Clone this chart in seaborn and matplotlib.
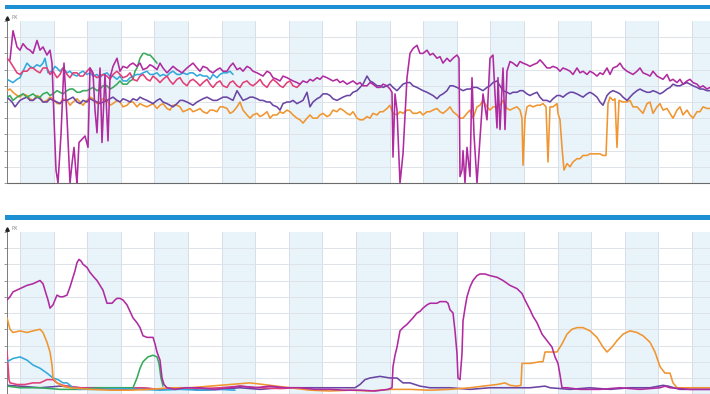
import matplotlib
matplotlib.use("Agg")
import matplotlib.pyplot as plt
from matplotlib.patches import Rectangle
import numpy as np
import pandas as pd
import seaborn as sns

sns.set_theme(style="white")
plt.rcParams["font.family"] = ["DejaVu Sans"]

# Each channel: (sample time, level in % of full scale)

# ---------- upper panel ----------
upper_magenta = [
    (10, 76), (13, 94), (17, 84), (20, 82), (23, 86), (27, 83), (30, 82), (33, 80), (37, 88), (40, 82),
    (43, 84), (47, 79), (50, 82), (52, 74), (54, 40), (56, 8), (58, 0), (61, 30), (64, 74), (67, 40),
    (70, 0), (72, 12), (74, 22), (76, 6), (77, 0), (79, 25), (82, 27), (85, 29), (88, 22), (90, 71),
    (93, 68), (95, 45), (97, 31), (100, 71), (102, 25), (105, 67), (108, 26), (110, 65), (113, 72), (117, 77),
    (120, 69), (123, 72), (127, 71), (130, 73), (133, 74), (137, 72), (140, 74), (143, 70), (147, 71), (150, 73),
    (153, 72), (157, 70), (160, 74), (163, 71), (167, 68), (170, 70), (173, 72), (177, 70), (182, 68), (187, 71),
    (193, 74), (197, 71), (200, 69), (203, 72), (207, 71), (210, 69), (213, 68), (217, 70), (220, 71), (223, 69),
    (227, 69), (230, 72), (233, 74), (237, 70), (240, 71), (243, 69), (247, 72), (250, 71), (253, 69), (257, 68),
    (260, 67), (263, 66), (267, 69), (270, 68), (273, 65), (277, 64), (280, 63), (283, 66), (287, 65), (290, 64),
    (293, 63), (297, 62), (300, 61), (303, 63), (307, 62), (310, 64), (313, 63), (317, 65), (320, 64), (323, 66),
    (327, 65), (330, 64), (333, 63), (337, 64), (340, 62), (343, 63), (347, 61), (350, 62), (353, 63), (357, 61),
    (360, 62), (363, 60), (367, 60), (370, 62), (373, 61), (377, 59), (380, 59), (383, 61), (387, 60), (390, 58),
    (392, 56), (393, 16), (395, 55), (397, 45), (400, 0), (403, 18), (407, 65), (410, 80), (413, 83), (417, 85),
    (420, 80), (423, 80), (427, 82), (430, 79), (433, 80), (437, 77), (440, 78), (443, 74), (447, 77), (450, 75),
    (453, 77), (457, 79), (459, 77), (460, 4), (462, 8), (463, 20), (465, 0), (467, 22), (470, 4), (472, 65),
    (474, 30), (477, 0), (480, 28), (483, 55), (487, 39), (490, 77), (493, 79), (495, 55), (497, 34), (498, 65),
    (500, 33), (503, 71), (505, 33), (507, 69), (510, 75), (513, 74), (517, 72), (520, 75), (523, 74), (527, 73),
    (530, 72), (533, 73), (537, 74), (540, 76), (543, 74), (547, 71), (550, 71), (553, 72), (557, 71), (560, 69),
    (563, 71), (567, 70), (570, 69), (573, 67), (577, 71), (580, 68), (583, 69), (587, 67), (590, 69), (593, 68),
    (597, 66), (600, 68), (603, 67), (607, 71), (610, 67), (613, 71), (617, 72), (620, 74), (623, 71), (627, 69),
    (630, 68), (633, 67), (637, 69), (640, 71), (643, 68), (647, 67), (650, 66), (653, 69), (657, 66), (660, 65),
    (663, 64), (667, 67), (670, 63), (673, 64), (677, 62), (680, 64), (683, 61), (687, 63), (690, 64), (693, 62),
    (697, 61), (700, 59), (703, 60), (707, 58), (710, 59),
]

upper_crimson = [
    (7, 77), (10, 75), (13, 72), (17, 68), (20, 67), (23, 69), (27, 69), (30, 71), (33, 71), (37, 69),
    (40, 68), (43, 71), (47, 71), (50, 67), (53, 69), (57, 65), (60, 67), (63, 71), (67, 67), (70, 65),
    (73, 68), (77, 68), (80, 66), (83, 66), (87, 69), (90, 71), (93, 67), (97, 65), (100, 66), (103, 67),
    (107, 66), (110, 64), (113, 67), (117, 69), (120, 67), (123, 65), (127, 66), (130, 68), (133, 64), (137, 63),
    (140, 66), (143, 67), (147, 64), (150, 63), (153, 66), (157, 64), (160, 62), (163, 64), (167, 66), (170, 63),
    (173, 61), (177, 64), (180, 65), (183, 62), (187, 60), (190, 63), (193, 64), (197, 62), (200, 60), (203, 62),
    (207, 64), (210, 61), (213, 59), (217, 62), (220, 63), (223, 60), (227, 59), (230, 62), (233, 63), (237, 60),
    (240, 59), (243, 62), (247, 63), (250, 61), (253, 60), (257, 62), (260, 64), (263, 61), (267, 59), (270, 62),
    (273, 64), (277, 62), (280, 60), (283, 59), (287, 62), (290, 63), (293, 60), (297, 59), (300, 61),
]

upper_cyan = [
    (7, 64), (10, 63), (13, 62), (17, 64), (20, 65), (23, 69), (27, 74), (30, 72), (33, 71), (37, 73),
    (40, 72), (43, 74), (45, 77), (48, 68), (52, 69), (55, 72), (57, 71), (60, 69), (63, 71), (67, 68),
    (70, 69), (73, 67), (77, 66), (80, 68), (83, 69), (87, 67), (90, 68), (93, 66), (97, 67), (100, 65),
    (103, 67), (107, 68), (110, 66), (113, 66), (117, 64), (120, 66), (123, 63), (127, 63), (130, 65), (133, 66),
    (137, 67), (140, 67), (143, 68), (147, 69), (150, 67), (153, 67), (157, 68), (160, 66), (163, 67), (167, 66),
    (170, 68), (173, 69), (177, 67), (180, 67), (183, 68), (187, 67), (190, 68), (193, 68), (197, 66), (200, 67),
    (203, 66), (207, 66), (210, 64), (213, 67), (217, 65), (220, 67), (223, 68), (227, 68), (230, 69), (233, 67),
]

upper_green = [
    (7, 53), (10, 54), (13, 51), (17, 53), (20, 54), (23, 55), (27, 53), (30, 54), (33, 55), (37, 53),
    (40, 53), (43, 55), (47, 56), (50, 54), (53, 55), (57, 57), (60, 56), (63, 55), (67, 57), (70, 58),
    (73, 58), (77, 56), (80, 56), (83, 57), (87, 57), (90, 58), (93, 59), (97, 57), (100, 58), (103, 60),
    (107, 60), (110, 58), (113, 59), (117, 61), (120, 63), (123, 61), (127, 61), (130, 63), (133, 64), (135, 69),
    (137, 71), (140, 77), (143, 80), (145, 80), (148, 79), (150, 79), (153, 77), (157, 74),
]

upper_purple = [
    (7, 53), (12, 50), (15, 47), (20, 51), (23, 52), (27, 53), (30, 51), (33, 51), (37, 53), (40, 52),
    (43, 50), (47, 50), (50, 52), (53, 51), (57, 50), (60, 49), (63, 51), (67, 51), (70, 52), (73, 53),
    (77, 50), (80, 49), (83, 51), (87, 50), (90, 52), (93, 51), (97, 50), (100, 49), (103, 50), (107, 51),
    (110, 52), (113, 53), (117, 51), (120, 50), (123, 52), (127, 51), (130, 50), (133, 52), (137, 51), (140, 53),
    (143, 52), (147, 51), (150, 50), (153, 49), (157, 51), (160, 52), (163, 50), (167, 49), (170, 48), (173, 47),
    (177, 49), (180, 51), (183, 51), (187, 50), (190, 49), (193, 48), (197, 50), (200, 51), (203, 52), (207, 53),
    (210, 52), (213, 51), (217, 51), (220, 52), (223, 53), (227, 53), (230, 52), (233, 51), (237, 57), (240, 54),
    (243, 51), (247, 52), (250, 53), (253, 53), (257, 52), (260, 51), (263, 51), (267, 50), (270, 50), (273, 48),
    (277, 47), (280, 45), (283, 49), (287, 50), (290, 50), (293, 51), (297, 49), (300, 50), (303, 51), (307, 56),
    (310, 47), (313, 50), (317, 52), (320, 53), (323, 55), (327, 55), (330, 54), (333, 52), (337, 51), (340, 52),
    (343, 53), (347, 54), (350, 54), (353, 56), (357, 57), (360, 59), (363, 61), (367, 66), (370, 63), (373, 62),
    (377, 60), (380, 60), (383, 59), (387, 60), (390, 61), (393, 59), (397, 57), (400, 59), (403, 61), (407, 62),
    (410, 62), (413, 60), (417, 59), (420, 58), (423, 57), (427, 56), (430, 55), (433, 54), (437, 52), (440, 54),
    (443, 55), (447, 57), (450, 60), (453, 60), (457, 59), (460, 58), (463, 57), (467, 58), (470, 58), (473, 59),
    (477, 59), (480, 58), (483, 57), (487, 59), (490, 60), (493, 62), (497, 63), (500, 60), (503, 57), (507, 56),
    (510, 55), (513, 56), (517, 56), (520, 57), (523, 57), (527, 55), (530, 54), (533, 55), (537, 56), (540, 53),
    (543, 51), (547, 51), (550, 50), (553, 52), (557, 54), (560, 54), (563, 53), (567, 55), (570, 56), (573, 56),
    (577, 55), (580, 54), (583, 53), (587, 55), (590, 56), (593, 55), (597, 53), (600, 50), (603, 48), (607, 54),
    (610, 56), (613, 57), (617, 56), (620, 55), (623, 53), (627, 51), (630, 53), (633, 55), (637, 57), (640, 58),
    (643, 57), (647, 56), (650, 56), (653, 57), (657, 56), (660, 55), (663, 56), (667, 58), (670, 59), (673, 61),
    (677, 60), (680, 60), (683, 61), (687, 62), (690, 61), (693, 60), (697, 59), (700, 58), (703, 58), (707, 57),
    (710, 57),
]

upper_orange = [
    (7, 57), (10, 58), (13, 56), (17, 54), (20, 53), (23, 55), (27, 54), (30, 52), (33, 51), (37, 54),
    (40, 53), (43, 50), (47, 51), (50, 53), (53, 52), (57, 49), (60, 49), (63, 52), (67, 51), (70, 48),
    (73, 50), (77, 52), (80, 50), (83, 48), (87, 51), (90, 53), (93, 52), (97, 49), (100, 50), (103, 52),
    (107, 51), (110, 48), (113, 49), (117, 51), (120, 50), (123, 47), (127, 48), (130, 50), (133, 50), (137, 47),
    (140, 49), (143, 48), (147, 47), (150, 48), (153, 49), (157, 46), (160, 48), (163, 49), (167, 46), (170, 45),
    (173, 48), (177, 48), (180, 47), (183, 44), (187, 45), (190, 46), (193, 44), (197, 45), (200, 46), (203, 44),
    (207, 43), (210, 45), (213, 45), (217, 44), (220, 47), (223, 47), (227, 46), (230, 43), (233, 44), (237, 47),
    (240, 50), (243, 45), (247, 42), (250, 40), (253, 42), (257, 43), (260, 41), (263, 42), (267, 44), (270, 40),
    (273, 42), (277, 42), (280, 44), (283, 43), (287, 45), (290, 44), (293, 42), (297, 40), (300, 39), (303, 37),
    (307, 40), (310, 42), (313, 40), (317, 40), (320, 42), (323, 43), (327, 41), (330, 42), (333, 45), (337, 44),
    (340, 46), (343, 45), (347, 43), (350, 42), (353, 44), (357, 40), (360, 39), (363, 39), (367, 41), (370, 40),
    (373, 43), (377, 42), (380, 44), (383, 44), (387, 46), (390, 48), (393, 43), (397, 42), (400, 44), (403, 43),
    (407, 45), (410, 45), (413, 43), (417, 43), (420, 44), (423, 42), (427, 44), (430, 44), (433, 45), (437, 46),
    (440, 44), (443, 43), (447, 45), (450, 47), (453, 44), (457, 42), (460, 40), (463, 40), (467, 43), (470, 45),
    (473, 40), (477, 47), (480, 48), (483, 51), (487, 47), (490, 45), (493, 47), (497, 47), (500, 48), (503, 51),
    (507, 46), (510, 45), (513, 46), (517, 47), (520, 45), (522, 40), (523, 11), (525, 40), (527, 47), (530, 48),
    (533, 47), (537, 48), (540, 48), (543, 49), (546, 47), (548, 13), (550, 47), (553, 47), (557, 49), (558, 43),
    (560, 39), (562, 22), (564, 8), (567, 12), (570, 10), (573, 13), (577, 15), (580, 15), (583, 17), (587, 17),
    (590, 18), (593, 18), (597, 18), (600, 18), (603, 17), (606, 17), (608, 49), (610, 53), (613, 51), (615, 52),
    (617, 22), (619, 51), (623, 50), (627, 50), (630, 51), (633, 47), (637, 47), (640, 45), (643, 43), (647, 49),
    (650, 50), (653, 43), (657, 47), (660, 49), (663, 45), (667, 46), (670, 43), (673, 40), (677, 45), (680, 47),
    (683, 42), (687, 45), (690, 42), (693, 40), (697, 44), (700, 44), (703, 47), (707, 46), (710, 46),
]

# ---------- lower panel ----------
lower_magenta = [
    (7, 58), (10, 60), (13, 63), (20, 65), (27, 67), (33, 68), (40, 70), (43, 68), (45, 64), (48, 58),
    (50, 53), (53, 55), (57, 61), (60, 60), (63, 60), (67, 61), (70, 66), (72, 70), (75, 76), (77, 81),
    (79, 83), (81, 82), (83, 80), (87, 78), (90, 75), (94, 72), (97, 70), (100, 67), (103, 64), (105, 60),
    (107, 56), (110, 56), (112, 56), (115, 58), (117, 59), (120, 59), (123, 58), (127, 55), (130, 51), (133, 47),
    (137, 44), (140, 41), (143, 36), (147, 35), (150, 35), (153, 35), (155, 31), (157, 26), (160, 21), (162, 10),
    (164, 6), (167, 4), (175, 3), (185, 4), (200, 4), (215, 3), (230, 4), (240, 5), (255, 4), (270, 5),
    (285, 4), (300, 4), (315, 3), (330, 3), (345, 2.5), (360, 2.5), (375, 2), (388, 3), (392, 4), (393, 17),
    (395, 24), (397, 29), (400, 39), (403, 41), (407, 43), (410, 45), (413, 47), (417, 50), (420, 51), (423, 53),
    (427, 55), (430, 56), (433, 56), (437, 56), (440, 57), (443, 57), (446, 57), (448, 56), (450, 52), (453, 50),
    (455, 39), (457, 25), (458, 10), (460, 9), (462, 25), (463, 45), (465, 53), (467, 60), (470, 66), (473, 70),
    (477, 73), (480, 74), (485, 74), (490, 73), (497, 72), (503, 70), (510, 67), (517, 65), (522, 62), (525, 58),
    (530, 52), (533, 48), (537, 44), (542, 37), (547, 33), (552, 29), (555, 23), (558, 19), (560, 12), (562, 4),
    (567, 4), (580, 3), (600, 3), (620, 4), (640, 3), (660, 4), (665, 5), (670, 4), (690, 3), (710, 3),
]

lower_orange = [
    (7, 47), (10, 40), (13, 38), (20, 39), (27, 38), (33, 39), (40, 40), (43, 38), (47, 32), (50, 26),
    (52, 18), (53, 10), (57, 7), (63, 5), (70, 4), (90, 3), (110, 2.5), (130, 2.5), (150, 3), (170, 4),
    (190, 4), (210, 5), (230, 6), (250, 7), (270, 5.5), (290, 4), (310, 2.5), (330, 2), (350, 2.5), (370, 2),
    (390, 3), (410, 3), (430, 2.5), (450, 3), (470, 4), (483, 5), (497, 6), (505, 7), (510, 5.5), (517, 5),
    (521, 5.5), (522, 19), (530, 19), (540, 20), (543, 20), (545, 26), (552, 26), (557, 26), (562, 31), (567, 37),
    (572, 40), (577, 41), (583, 41), (590, 39), (597, 35), (603, 29), (607, 26), (612, 29), (617, 33), (623, 37),
    (630, 39), (637, 38), (643, 36), (650, 32), (655, 26), (660, 17), (665, 13), (670, 13), (673, 7), (677, 4),
    (690, 4), (710, 4),
]

lower_cyan = [
    (7, 20), (13, 22), (20, 23), (27, 21), (33, 18), (40, 16), (47, 13), (53, 10), (58, 9), (63, 7),
    (67, 7), (70, 5.5), (73, 4), (80, 3), (100, 3), (120, 3.5), (140, 3), (160, 2.5), (180, 3), (200, 2.5),
    (220, 3), (235, 2.5),
]

lower_green = [
    (7, 5), (20, 4), (40, 4), (60, 3), (80, 3), (100, 4), (120, 4), (133, 4), (137, 10), (140, 16),
    (143, 20), (148, 23), (153, 24), (157, 23), (159, 19), (161, 10), (163, 5),
]

lower_crimson = [
    (7, 27), (8, 18), (9, 9), (10, 7), (17, 6), (25, 6), (33, 7), (40, 7), (47, 9), (50, 9),
    (53, 9), (57, 7), (63, 5.5), (80, 4), (100, 3.5), (120, 3), (140, 4), (160, 3), (180, 4), (200, 3.5),
    (220, 4), (240, 5), (260, 4), (280, 3.5), (300, 4),
]

lower_purple = [
    (7, 5.5), (20, 5), (40, 4), (60, 5), (80, 4), (100, 4), (120, 3), (140, 4), (160, 3), (180, 4),
    (200, 2.5), (220, 3), (240, 4), (260, 3), (280, 4), (300, 4), (320, 4), (340, 4), (355, 4), (360, 6),
    (365, 9), (370, 10), (380, 11), (390, 10), (397, 10), (403, 7), (410, 7), (420, 5), (430, 4), (450, 4),
    (470, 3), (490, 4), (510, 4), (530, 4), (545, 5), (550, 4), (570, 3), (590, 4), (610, 3), (630, 4),
    (650, 4), (663, 5.5), (668, 5), (680, 3), (700, 3), (710, 3),
]

colors = {
    "orange": "#f0952f",
    "purple": "#6a45a4",
    "green": "#37a95a",
    "cyan": "#33a8dc",
    "crimson": "#e23f78",
    "magenta": "#b02aa0",
}

upper = [("orange", upper_orange), ("purple", upper_purple), ("green", upper_green),
         ("cyan", upper_cyan), ("crimson", upper_crimson), ("magenta", upper_magenta)]
lower = [("purple", lower_purple), ("crimson", lower_crimson), ("green", lower_green),
         ("cyan", lower_cyan), ("orange", lower_orange), ("magenta", lower_magenta)]


def to_frame(pairs, name):
    t, v = zip(*pairs)
    return pd.DataFrame({"t": t, "level": v, "channel": name})


W, H = 710, 394
fig = plt.figure(figsize=(W / 100, H / 100), dpi=100)
fig.patch.set_facecolor("white")


def axes_px(left, top, right, bottom):
    return fig.add_axes([left / W, 1 - bottom / H, (right - left) / W, (bottom - top) / H])


def header_bar(top, bottom):
    fig.add_artist(Rectangle((5 / W, 1 - bottom / H), 1 - 5 / W, (bottom - top) / H,
                             transform=fig.transFigure, color="#1d8fd3", lw=0))


header_bar(5, 9)
header_bar(215, 220)

ax_top = axes_px(7, 21, 710, 183)
ax_bot = axes_px(7, 231.75, 710, 394.25)

band_first, band_w = 20, 33.6
band_edges = band_first + band_w * np.arange(21)

for ax, channels in ((ax_top, upper), (ax_bot, lower)):
    ax.set_facecolor("white")
    for k in range(0, len(band_edges), 2):
        ax.axvspan(band_edges[k], band_edges[k] + band_w, color="#e8f4fa", lw=0, zorder=0)
    for e in band_edges:
        ax.axvline(e, color="#d6dfe7", lw=0.7, zorder=0.5)
    for y in range(10, 100, 10):
        ax.axhline(y, color="#dde3e9", lw=0.7, zorder=0.5)

    for name, pairs in channels:
        df = to_frame(pairs, name)
        sns.lineplot(data=df, x="t", y="level", ax=ax, color=colors[name],
                     linewidth=1.15, estimator=None, sort=False, legend=False, zorder=3)

    ax.set_xlim(7, 710)
    ax.set_ylim(0, 100)
    ax.set_xlabel("")
    ax.set_ylabel("")
    ax.set_xticks([])
    ax.set_yticks(range(0, 101, 10))
    ax.tick_params(axis="y", left=True, length=2, width=0.6, color="#8a8a8a",
                   direction="out", labelleft=False)
    for side in ("top", "right"):
        ax.spines[side].set_visible(False)
    ax.spines["left"].set_color("#7a7a7a")
    ax.spines["left"].set_linewidth(0.7)
    ax.spines["bottom"].set_color("#6a6a6a")
    ax.spines["bottom"].set_linewidth(0.8)

    # axis arrow head and unit label
    ax.plot([0], [1.02], transform=ax.transAxes, marker="^", ms=2.5,
            color="#222222", clip_on=False, zorder=5)
    ax.text(0.006, 1.005, "PX", transform=ax.transAxes, fontsize=3.6,
            color="#8a8a8a", va="bottom", ha="left")

fig.savefig("out.png", dpi=100, facecolor="white")
